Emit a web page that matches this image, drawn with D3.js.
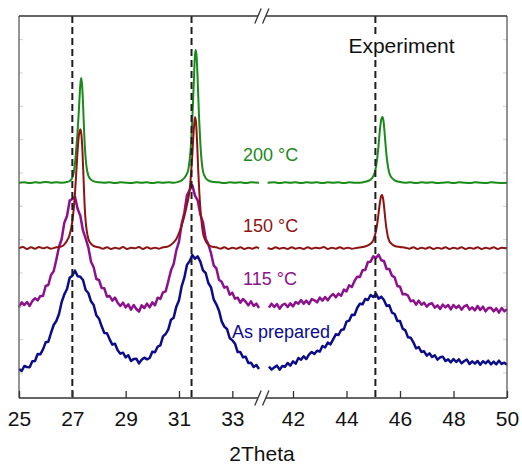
<!DOCTYPE html>
<html>
<head>
<meta charset="utf-8">
<script src="https://cdn.jsdelivr.net/npm/d3@7"></script>
<style>
  body { margin: 0; background: #fff; }
  svg { display: block; font-family: "Liberation Sans", Arial, Helvetica, sans-serif; }
</style>
</head>
<body>
<svg id="chart" width="522" height="465"></svg>
<script>
// ---- Tick labels and reference positions (2Theta, degrees) ----
const ticksLeft = [25, 27, 29, 31, 33];
const ticksRight = [42, 44, 46, 48, 50];
const refPeaks = [27.0, 31.47, 45.08];
const yTicks = [0, 1, 2, 3, 4, 5, 6, 7, 8, 9, 10];

// ---- Sample labels ----
const labels = ["As prepared", "115 \u00B0C", "150 \u00B0C", "200 \u00B0C"];
const colors = ["#0c0c8a", "#8c128c", "#8e1414", "#1a8a1a"];

// ---- Diffraction patterns (offset intensity, a.u.) ----
// "As prepared" and 115 °C: sampled every 0.1° (25.0–34.0 and 41.1–50.0)
const asPreparedLeft = [
  0.12,0.06,0.21,0.18,0.17,0.35,0.36,0.57,0.56,0.71,
  0.92,0.94,1.20,1.44,1.56,1.77,2.13,2.36,2.52,2.86,
  2.92,3.07,2.90,2.89,2.79,2.49,2.40,2.15,2.04,1.73,
  1.63,1.40,1.20,1.19,1.01,0.85,0.88,0.68,0.58,0.61,
  0.47,0.53,0.36,0.42,0.43,0.29,0.40,0.46,0.41,0.45,
  0.64,0.62,0.79,0.83,1.10,1.17,1.31,1.60,1.66,1.99,
  2.18,2.60,2.86,3.25,3.35,3.54,3.43,3.50,3.34,3.08,
  3.00,2.70,2.57,2.21,2.06,1.87,1.55,1.39,1.32,1.05,
  0.98,0.88,0.63,0.63,0.47,0.49,0.30,0.31,0.18,0.24,
  0.12];
const asPreparedRight = [
  0.19,0.10,0.17,0.22,0.10,0.21,0.19,0.30,0.22,
  0.35,0.28,0.45,0.40,0.50,0.42,0.56,0.63,0.57,0.67,
  0.64,0.81,0.77,0.91,0.86,1.01,1.16,1.14,1.29,1.31,
  1.54,1.57,1.75,1.74,1.95,2.08,2.06,2.22,2.19,2.34,
  2.28,2.38,2.23,2.29,2.19,2.01,2.03,1.81,1.77,1.56,
  1.56,1.33,1.28,1.07,1.06,0.92,0.74,0.78,0.63,0.65,
  0.52,0.59,0.48,0.53,0.40,0.47,0.49,0.36,0.41,0.32,
  0.42,0.33,0.41,0.29,0.36,0.40,0.27,0.35,0.28,0.36,
  0.25,0.35,0.29,0.37,0.26,0.34,0.26,0.37,0.27,0.31,
  0.25];
const t115Left = [
  1.97,2.12,2.04,2.13,2.01,2.16,2.24,2.18,2.31,2.31,
  2.61,2.64,2.94,3.05,3.40,3.78,4.02,4.51,4.71,5.17,
  5.22,5.29,4.92,4.72,4.27,4.04,3.77,3.34,3.17,2.82,
  2.79,2.55,2.54,2.29,2.31,2.17,2.26,2.11,2.01,2.11,
  1.97,2.06,1.90,2.04,1.92,1.84,2.03,1.95,2.08,1.97,
  2.12,2.03,2.26,2.22,2.42,2.45,2.76,3.08,3.27,3.68,
  3.94,4.47,4.81,5.34,5.49,5.63,5.32,5.18,4.76,4.52,
  4.03,3.86,3.60,3.23,3.14,2.80,2.74,2.56,2.59,2.35,
  2.41,2.23,2.26,2.11,2.22,2.14,2.03,2.15,2.01,2.08,
  1.95];
const t115Right = [
  1.96,2.08,1.98,2.07,1.93,2.04,2.08,1.98,2.09,
  2.00,2.13,2.08,2.19,2.08,2.17,2.07,2.22,2.18,2.12,
  2.26,2.17,2.28,2.18,2.30,2.37,2.27,2.38,2.32,2.50,
  2.45,2.63,2.58,2.76,2.89,2.88,3.08,3.09,3.33,3.34,
  3.50,3.45,3.55,3.38,3.36,3.12,3.12,2.92,2.87,2.61,
  2.59,2.36,2.37,2.32,2.15,2.18,2.05,2.17,2.05,2.11,
  1.99,2.07,2.09,1.96,2.03,1.92,2.05,1.97,2.04,1.91,
  2.04,1.95,2.02,1.90,2.00,2.04,1.90,1.97,1.88,2.01,
  1.89,1.99,1.85,1.95,1.96,1.85,1.94,1.81,1.95,1.85,
  1.91];

// 150 °C and 200 °C: [2Theta, intensity] pairs, denser across the sharp reflections
const t150Left = [
  [25.0,3.74],[25.15,3.78],[25.3,3.72],[25.45,3.77],[25.6,3.73],[25.75,3.78],[25.9,3.74],[26.05,3.77],[26.2,3.73],[26.4,3.77],
  [26.6,3.80],[26.7,3.86],[26.8,3.97],[26.9,4.15],[27.0,4.55],[27.05,4.90],[27.1,5.40],[27.15,6.05],[27.2,6.70],[27.25,7.15],
  [27.3,7.31],[27.34,7.15],[27.38,6.65],[27.42,5.85],[27.46,5.05],[27.5,4.55],[27.55,4.22],[27.6,4.03],[27.7,3.88],[27.8,3.81],[28.0,3.77],
  [28.15,3.73],[28.3,3.77],[28.45,3.72],[28.6,3.76],[28.75,3.73],[28.9,3.78],[29.05,3.72],[29.2,3.76],[29.35,3.74],[29.5,3.78],
  [29.65,3.72],[29.8,3.77],[29.95,3.73],[30.1,3.76],[30.25,3.73],[30.4,3.77],
  [30.6,3.80],[30.8,3.92],[30.9,4.02],[31.0,4.20],[31.1,4.42],[31.2,4.70],[31.3,5.05],[31.4,5.50],[31.45,5.95],[31.5,6.55],
  [31.55,7.25],[31.6,7.68],[31.64,7.50],[31.68,6.90],[31.72,6.10],[31.76,5.45],[31.8,4.95],[31.85,4.50],[31.9,4.20],[32.0,3.96],
  [32.1,3.85],[32.2,3.80],[32.4,3.77],
  [32.55,3.73],[32.7,3.77],[32.85,3.72],[33.0,3.76],[33.15,3.73],[33.3,3.77],[33.45,3.72],[33.6,3.76],[33.75,3.73],[33.9,3.77],[34.0,3.74]];
const t150Right = [
  [41.05,3.75],[41.2,3.72],[41.35,3.77],[41.5,3.73],[41.65,3.76],[41.8,3.72],[41.95,3.77],[42.1,3.73],[42.25,3.76],[42.4,3.72],
  [42.55,3.77],[42.7,3.73],[42.85,3.76],[43.0,3.74],[43.15,3.78],[43.3,3.72],[43.45,3.76],[43.6,3.73],[43.75,3.77],[43.9,3.73],
  [44.05,3.76],[44.2,3.73],
  [44.4,3.76],[44.6,3.78],[44.8,3.83],[44.9,3.88],[45.0,3.98],[45.05,4.10],[45.1,4.25],[45.15,4.48],[45.2,4.80],[45.25,5.12],
  [45.3,5.32],[45.33,5.34],[45.37,5.22],[45.41,4.95],[45.45,4.62],[45.5,4.30],[45.55,4.08],[45.6,3.96],[45.7,3.86],[45.8,3.81],
  [46.0,3.78],[46.2,3.76],
  [46.35,3.73],[46.5,3.77],[46.65,3.72],[46.8,3.76],[46.95,3.73],[47.1,3.77],[47.25,3.72],[47.4,3.76],[47.55,3.73],[47.7,3.77],
  [47.85,3.72],[48.0,3.76],[48.15,3.73],[48.3,3.77],[48.45,3.72],[48.6,3.76],[48.75,3.73],[48.9,3.77],[49.05,3.72],[49.2,3.76],
  [49.35,3.73],[49.5,3.77],[49.65,3.72],[49.8,3.76],[50.0,3.74]];
const t200Left = [
  [25.0,5.71],[25.2,5.72],[25.4,5.70],[25.6,5.72],[25.8,5.71],[26.0,5.73],[26.2,5.71],[26.4,5.72],
  [26.6,5.71],[26.8,5.73],[26.9,5.76],[27.0,5.86],[27.05,6.00],[27.1,6.30],[27.15,6.75],[27.2,7.28],[27.25,7.95],[27.3,8.65],
  [27.33,8.85],[27.37,8.60],[27.41,7.90],[27.44,7.28],[27.48,6.65],[27.53,6.20],[27.6,5.92],[27.7,5.80],[27.8,5.75],[28.0,5.72],
  [28.2,5.71],[28.4,5.72],[28.6,5.70],[28.8,5.72],[29.0,5.71],[29.2,5.70],[29.4,5.72],[29.6,5.71],[29.8,5.72],[30.0,5.70],
  [30.2,5.72],[30.4,5.71],[30.6,5.72],
  [30.8,5.71],[31.0,5.74],[31.1,5.78],[31.2,5.85],[31.3,5.98],[31.35,6.10],[31.4,6.40],[31.45,6.85],[31.5,7.65],[31.55,8.60],
  [31.6,9.55],[31.63,9.69],[31.66,9.50],[31.7,8.80],[31.75,7.70],[31.8,6.90],[31.85,6.35],[31.9,6.05],[32.0,5.85],[32.1,5.78],[32.3,5.73],
  [32.5,5.72],[32.7,5.70],[32.9,5.72],[33.1,5.71],[33.3,5.72],[33.5,5.70],[33.7,5.72],[34.0,5.71]];
const t200Right = [
  [41.05,5.71],[41.3,5.72],[41.5,5.70],[41.7,5.72],[41.9,5.71],[42.1,5.72],[42.3,5.70],[42.5,5.72],[42.7,5.71],[42.9,5.72],
  [43.1,5.70],[43.3,5.72],[43.5,5.71],[43.7,5.72],[43.9,5.70],[44.1,5.72],[44.3,5.71],
  [44.5,5.71],[44.7,5.74],[44.85,5.78],[44.95,5.84],[45.05,6.00],[45.1,6.18],[45.15,6.45],[45.2,6.85],[45.25,7.30],[45.3,7.60],
  [45.34,7.68],[45.38,7.58],[45.42,7.25],[45.46,6.85],[45.5,6.50],[45.55,6.20],[45.6,6.00],[45.7,5.85],[45.8,5.78],[46.0,5.73],[46.2,5.71],
  [46.4,5.72],[46.6,5.70],[46.8,5.72],[47.0,5.71],[47.2,5.72],[47.4,5.70],[47.6,5.71],[47.8,5.72],[48.0,5.70],[48.2,5.72],
  [48.4,5.71],[48.6,5.70],[48.8,5.72],[49.0,5.71],[49.2,5.70],[49.4,5.72],[49.6,5.71],[49.8,5.70],[50.0,5.71]];

// ---- Layout ----
const svg = d3.select("#chart");
const frame = { left: 19, right: 507, top: 16, bottom: 398 };

// Broken x axis: two segments with the same degrees-per-pixel
const xL = d3.scaleLinear().domain([25, 34]).range([19, 259]);
const xR = d3.scaleLinear().domain([41, 50]).range([266.25, 507]);
const y = d3.scaleLinear().domain([-0.75, 10.71]).range([frame.bottom, frame.top]);

const gridLeft = d3.range(250, 341).map(d => d / 10);
const gridRight = d3.range(411, 501).map(d => d / 10);
const pair = (grid, vals) => grid.map((t, i) => [t, vals[i]]);

const series = [
  { name: labels[0], color: colors[0], left: pair(gridLeft, asPreparedLeft), right: pair(gridRight, asPreparedRight), curve: d3.curveLinear, w: 2.5 },
  { name: labels[1], color: colors[1], left: pair(gridLeft, t115Left), right: pair(gridRight, t115Right), curve: d3.curveLinear, w: 2.5 },
  { name: labels[3], color: colors[3], left: t200Left, right: t200Right, curve: d3.curveMonotoneX, w: 2.0 },
  { name: labels[2], color: colors[2], left: t150Left, right: t150Right, curve: d3.curveMonotoneX, w: 2.0 }
];

const gLines = svg.append("g");
series.forEach(s => {
  [[s.left, xL], [s.right, xR]].forEach(([data, xs]) => {
    gLines.append("path")
      .datum(data)
      .attr("fill", "none")
      .attr("stroke", s.color)
      .attr("stroke-width", s.w)
      .attr("stroke-linejoin", "round")
      .attr("d", d3.line().curve(s.curve).x(d => xs(d[0])).y(d => y(d[1])));
  });
});

// Reference positions: dashed verticals
const refX = t => (t <= 34 ? xL(t) : xR(t));
svg.append("g").selectAll("line").data(refPeaks).join("line")
  .attr("x1", d => refX(d)).attr("x2", d => refX(d))
  .attr("y1", frame.top).attr("y2", frame.bottom)
  .attr("stroke", "#1e1e1e").attr("stroke-width", 2)
  .attr("stroke-dasharray", "7,4");

// Faint y ticks on both sides (no labels, arbitrary units)
const gY = svg.append("g");
gY.selectAll("line.l").data(yTicks).join("line").attr("class", "l")
  .attr("x1", frame.left).attr("x2", frame.left + 4)
  .attr("y1", d => y(d)).attr("y2", d => y(d))
  .attr("stroke", "#d0d0d0").attr("stroke-width", 1);
gY.selectAll("line.r").data(yTicks).join("line").attr("class", "r")
  .attr("x1", frame.right - 4).attr("x2", frame.right)
  .attr("y1", d => y(d)).attr("y2", d => y(d))
  .attr("stroke", "#d0d0d0").attr("stroke-width", 1);

// Frame with a break between the two x segments
const brk1 = xL(34) - 1, brk2 = xR(41) - 0.5;
const gFrame = svg.append("g").attr("stroke-width", 1.3).attr("fill", "none");
gFrame.append("line").attr("x1", frame.left).attr("x2", frame.left).attr("y1", frame.top).attr("y2", frame.bottom).attr("stroke", "#5a5a5a");
gFrame.append("line").attr("x1", frame.right).attr("x2", frame.right).attr("y1", frame.top).attr("y2", frame.bottom).attr("stroke", "#5a5a5a");
[frame.top, frame.bottom].forEach(yy => {
  gFrame.append("line").attr("x1", frame.left).attr("x2", brk1).attr("y1", yy).attr("y2", yy).attr("stroke", "#333");
  gFrame.append("line").attr("x1", brk2).attr("x2", frame.right).attr("y1", yy).attr("y2", yy).attr("stroke", "#333");
  [brk1, brk2].forEach(cx => {
    gFrame.append("line")
      .attr("x1", cx - 3.2).attr("y1", yy + 7.5)
      .attr("x2", cx + 3.2).attr("y2", yy - 7.5)
      .attr("stroke", "#333").attr("stroke-width", 1.3);
  });
});

// Bottom axes (ticks inward)
function bottomAxis(scale, values) {
  const g = svg.append("g").attr("transform", `translate(0,${frame.bottom})`)
    .call(d3.axisBottom(scale).tickValues(values).tickSizeInner(-7).tickSizeOuter(0).tickPadding(13));
  g.select(".domain").remove();
  g.selectAll(".tick line").attr("stroke", "#333").attr("stroke-width", 1.3);
  g.selectAll(".tick text").attr("fill", "#111").style("font-size", "21px")
    .style("font-family", "'Liberation Sans', Arial, sans-serif");
  return g;
}
bottomAxis(xL, ticksLeft);
bottomAxis(xR, ticksRight);

// Axis title
svg.append("text")
  .attr("x", 262).attr("y", 461)
  .attr("text-anchor", "middle")
  .style("font-size", "21px").attr("fill", "#111")
  .text("2Theta");

// Panel title with a white backing so the dashed line stops behind it
const gTitle = svg.append("g");
const titleBg = gTitle.append("rect").attr("fill", "#fff");
const title = gTitle.append("text")
  .attr("x", 401.5).attr("y", 53)
  .attr("text-anchor", "middle")
  .style("font-size", "21px").attr("fill", "#111")
  .text("Experiment");
const bb = title.node().getBBox();
titleBg.attr("x", bb.x - 2).attr("y", bb.y + 1)
  .attr("width", bb.width + 4).attr("height", bb.height - 2);

// Sample labels
const labelPos = [
  { text: labels[3], color: colors[3], x: 243, y: 161 },
  { text: labels[2], color: colors[2], x: 243, y: 232 },
  { text: labels[1], color: colors[1], x: 243, y: 285 },
  { text: labels[0], color: colors[0], x: 232, y: 338 }
];
svg.append("g").selectAll("text").data(labelPos).join("text")
  .attr("x", d => d.x).attr("y", d => d.y)
  .attr("fill", d => d.color)
  .style("font-size", "18px")
  .text(d => d.text);
</script>
</body>
</html>
